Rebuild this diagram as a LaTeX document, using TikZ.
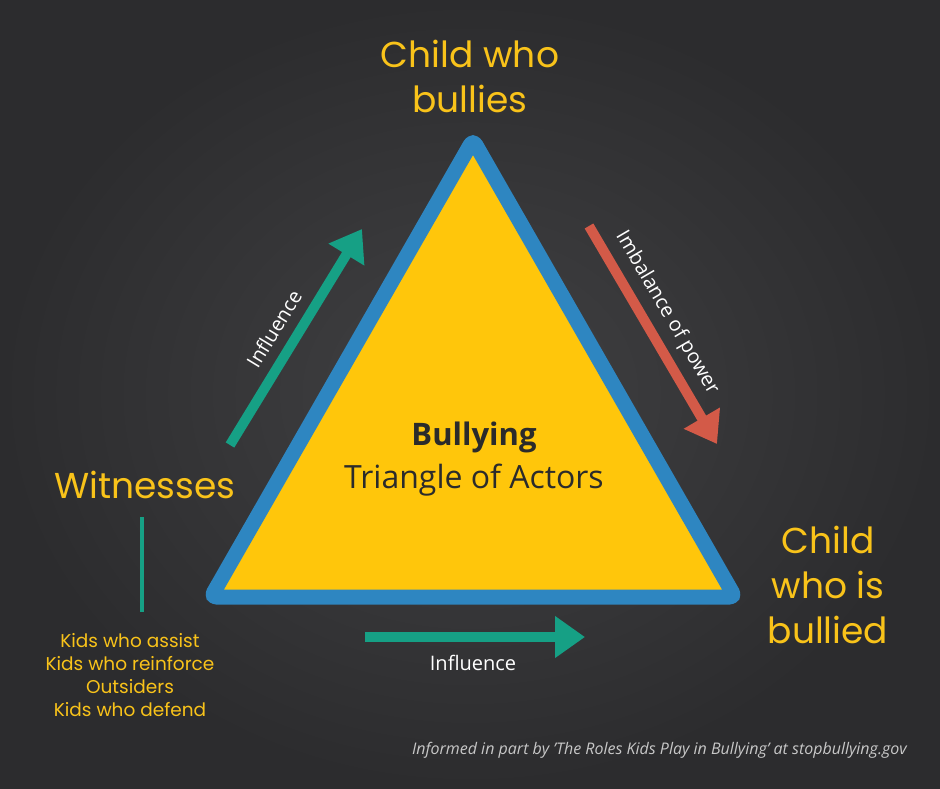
\documentclass[tikz,border=0pt]{standalone}
\usepackage{fontspec}
\setmainfont{Open Sans}
\newfontfamily\handfont{Poppins}
\usetikzlibrary{arrows.meta}
\definecolor{board}{HTML}{38383A}
\definecolor{boardin}{HTML}{414143}
\definecolor{boardout}{HTML}{2C2C2E}
\definecolor{triyellow}{HTML}{FFC60B}
\definecolor{triblue}{HTML}{2E86C1}
\definecolor{arrgreen}{HTML}{16A085}
\definecolor{arrred}{HTML}{D35A48}
\definecolor{chalkyellow}{HTML}{F9C31A}
\definecolor{darktext}{HTML}{2B2B2B}
\definecolor{notegray}{HTML}{C8C8C8}
\tikzset{
  hand/.style={text=chalkyellow, font=\handfont\fontsize{36}{45}\selectfont, align=center, inner sep=0pt},
  handsmall/.style={text=chalkyellow, font=\handfont\fontsize{18.5}{23}\selectfont, align=center, inner sep=0pt},
  arrlabel/.style={text=white, font=\fontsize{20}{22}\selectfont, inner sep=0pt},
  bigarrow/.style={line width=10pt, -{Triangle[length=30pt,width=40pt]}},
}
\begin{document}
\begin{tikzpicture}[x=1pt,y=-1pt]
\shade[inner color=boardin, outer color=boardout] (0,0) rectangle (940,788);
\useasboundingbox (0,0) rectangle (940,788);
% triangle
\coordinate (T) at (473,140);
\coordinate (L) at (211,597);
\coordinate (R) at (735,597);
\filldraw[fill=triyellow, draw=triblue, line width=15pt, line join=round, rounded corners=5pt]
  (T) -- (R) -- (L) -- cycle;
\node[text=darktext, font=\bfseries\fontsize{31}{34}\selectfont, inner sep=0pt] (title) at (474,437) {Bullying};
\node[text=darktext, font=\fontsize{32}{34}\selectfont, inner sep=0pt] (subtitle) at (474,480) {Triangle of Actors};
% actors
\node[hand] (bully) at (470,76) {Child who\\bullies};
\node[hand] (wit) at (145,485) {Witnesses};
\node[hand] (victim) at (828,585) {Child\\who is\\bullied};
% witness list
\coordinate (vtop) at (142,517);
\coordinate (vbot) at (142,612);
\draw[arrgreen, line width=4pt] (vtop) -- (vbot);
\node[handsmall] (kids) at (130,675) {Kids who assist\\Kids who reinforce\\Outsiders\\Kids who defend};
% arrows
\coordinate (g1s) at (230,445);
\coordinate (g1e) at (362,229);
\draw[arrgreen, bigarrow] (g1s) -- (g1e);
\node[arrlabel, rotate=58.6] (inf1) at (274,329) {Influence};
\coordinate (r1s) at (589,226);
\coordinate (r1e) at (717,444);
\draw[arrred, bigarrow] (r1s) -- (r1e);
\node[arrlabel, rotate=-59.6] (imb) at (667,313) {Imbalance of power};
\coordinate (g2s) at (365,637);
\coordinate (g2e) at (585,637);
\draw[arrgreen, bigarrow] (g2s) -- (g2e);
\node[arrlabel] (inf2) at (473,663) {Influence};
% footer
\node[text=notegray, font=\itshape\fontsize{16}{18}\selectfont, anchor=east, inner sep=0pt] (note) at (907,750) {Informed in part by 'The Roles Kids Play in Bullying' at stopbullying.gov};
\end{tikzpicture}
\end{document}
